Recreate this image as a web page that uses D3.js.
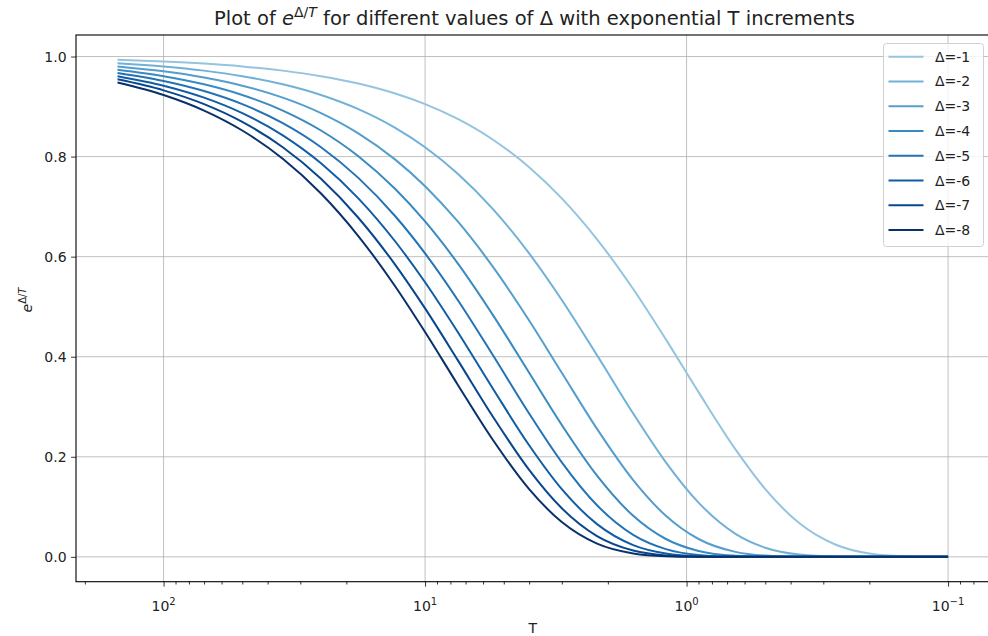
<!DOCTYPE html>
<html>
<head>
<meta charset="utf-8">
<script src="https://cdn.jsdelivr.net/npm/d3@7"></script>
<style>
  html, body { margin: 0; padding: 0; background: #fff; }
  svg { display: block; font-family: "DejaVu Sans", sans-serif; }
</style>
</head>
<body>
<svg id="chart" width="988" height="636"></svg>
<script>
// ---- data ----
const T = [150, 100, 70, 50, 35, 25, 18, 13, 10, 7.5, 5.5, 4, 3, 2.2, 1.6, 1.2, 0.9, 0.65, 0.5, 0.37, 0.27, 0.2, 0.14, 0.1];
const deltas = [-1, -2, -3, -4, -5, -6, -7, -8];
const valsD1 = [.99336, .99005, .98582, .98020, .97183, .96079, .94596, .92596, .90484, .87517, .83375, .77880, .71653, .63474, .53526, .43460, .32919, .21471, .13534, .06702, .02463, .00674, .00079, .00005];
const valsD2 = [.98676, .98020, .97183, .96079, .94446, .92312, .89484, .85741, .81873, .76593, .69514, .60653, .51342, .40289, .28650, .18888, .10837, .04610, .01832, .00449, .00061, .00005, 0, 0];
const valsD3 = [.98020, .97045, .95805, .94176, .91786, .88692, .84648, .79392, .74082, .67032, .57958, .47237, .36788, .25573, .15336, .08209, .03567, .00990, .00248, .00030, .00001, 0, 0, 0];
const valsD4 = [.97369, .96079, .94446, .92312, .89200, .85214, .80074, .73514, .67032, .58665, .48323, .36788, .26360, .16232, .08209, .03567, .01174, .00213, .00034, .00002, 0, 0, 0, 0];
const valsD5 = [.96722, .95123, .93106, .90484, .86688, .81873, .75747, .68071, .60653, .51342, .40289, .28650, .18888, .10303, .04394, .01550, .00387, .00046, .00005, 0, 0, 0, 0, 0];
const valsD6 = [.96079, .94176, .91786, .88692, .84246, .78663, .71653, .63031, .54881, .44933, .33591, .22313, .13534, .06540, .02352, .00674, .00127, .00010, 0, 0, 0, 0, 0, 0];
const valsD7 = [.95440, .93239, .90484, .86936, .81873, .75578, .67781, .58365, .49659, .39324, .28007, .17377, .09697, .04151, .01259, .00293, .00042, .00002, 0, 0, 0, 0, 0, 0];
const valsD8 = [.94806, .92312, .89200, .85214, .79567, .72615, .64118, .54044, .44933, .34415, .23351, .13534, .06948, .02635, .00674, .00127, .00014, 0, 0, 0, 0, 0, 0, 0];
const seriesValues = [valsD1, valsD2, valsD3, valsD4, valsD5, valsD6, valsD7, valsD8];
const yTicks = [0.0, 0.2, 0.4, 0.6, 0.8, 1.0];
const xMajorTicks = [100, 10, 1, 0.1];
const xMajorExp = ["2", "1", "0", "\u22121"];

// ---- colours: matplotlib "Blues" stops ----
const bluesStops = ["#f7fbff", "#deebf7", "#c6dbef", "#9ecae1", "#6baed6", "#4292c6", "#2171b5", "#08519c", "#08306b"];
const blues = d3.scaleLinear().domain(d3.range(9).map(i => i / 8)).range(bluesStops).interpolate(d3.interpolateRgb);
const colors = deltas.map((d, i) => blues(0.4 + 0.6 * i / (deltas.length - 1)));

// ---- layout ----
const svg = d3.select("#chart");
const L = 76, Rr = 989.6, Tp = 35, B = 581.7;

const lmin = Math.log10(d3.min(T)), lmax = Math.log10(d3.max(T));
const lm = (lmax - lmin) * 0.05;
const x = d3.scaleLog().domain([Math.pow(10, lmax + lm), Math.pow(10, lmin - lm)]).range([L, Rr]);
const vmax = d3.max(seriesValues.flat()), vmin = 0;
const ym = (vmax - vmin) * 0.05;
const y = d3.scaleLinear().domain([vmin - ym, vmax + ym]).range([B, Tp]);

// grid
const grid = svg.append("g").attr("stroke", "#b0b0b0").attr("stroke-width", 0.8);
xMajorTicks.forEach(t => grid.append("line").attr("x1", x(t)).attr("x2", x(t)).attr("y1", Tp).attr("y2", B));
yTicks.forEach(t => grid.append("line").attr("x1", L).attr("x2", Rr).attr("y1", y(t)).attr("y2", y(t)));

// lines
const line = d3.line().x(d => x(d[0])).y(d => y(d[1])).curve(d3.curveMonotoneX);
const plot = svg.append("g");
seriesValues.forEach((vals, i) => {
  plot.append("path")
    .datum(T.map((t, j) => [t, vals[j]]))
    .attr("d", line)
    .attr("fill", "none")
    .attr("stroke", colors[i])
    .attr("stroke-width", 2)
    .attr("stroke-linejoin", "round")
    .attr("stroke-linecap", "butt");
});

// axes
const xAxis = d3.axisBottom(x).tickValues(xMajorTicks).tickSize(4.9).tickFormat("");
const gx = svg.append("g").attr("transform", `translate(0,${B})`).call(xAxis);
const minor = [];
const [dHi, dLo] = x.domain();
for (let e = -3; e <= 3; e++) for (let m = 2; m <= 9; m++) {
  const v = m * Math.pow(10, e);
  if (v <= dHi && v >= dLo) minor.push(v);
}
const gxm = svg.append("g").attr("transform", `translate(0,${B})`)
  .call(d3.axisBottom(x).tickValues(minor).tickSize(2.8).tickFormat(""));
[gx, gxm].forEach(g => {
  g.select(".domain").remove();
  g.selectAll(".tick line").attr("stroke", "#000").attr("stroke-width", 0.8);
});
xMajorTicks.forEach((t, i) => {
  const tx = svg.append("text").attr("x", x(t)).attr("y", 611).attr("text-anchor", "middle")
    .attr("font-size", 14).attr("fill", "#222");
  tx.append("tspan").text("10");
  tx.append("tspan").attr("dy", -6).attr("font-size", 10).text(xMajorExp[i]);
});

const gy = svg.append("g").attr("transform", `translate(${L},0)`)
  .call(d3.axisLeft(y).tickValues(yTicks).tickSize(4.9).tickPadding(4.5).tickFormat(d3.format(".1f")));
gy.select(".domain").remove();
gy.selectAll(".tick line").attr("stroke", "#000").attr("stroke-width", 0.8);
gy.selectAll(".tick text").attr("font-size", 14).attr("fill", "#222").attr("font-family", "DejaVu Sans");

// spines
const sp = svg.append("g").attr("stroke", "#000").attr("stroke-width", 1.1).attr("fill", "none");
sp.append("rect").attr("x", L).attr("y", Tp).attr("width", Rr - L).attr("height", B - Tp);

// legend
const lg = svg.append("g");
lg.append("rect").attr("x", 883.5).attr("y", 43.5).attr("width", 100).attr("height", 203)
  .attr("rx", 3).attr("fill", "#fff").attr("fill-opacity", 0.8).attr("stroke", "#d0d0d0").attr("stroke-width", 1);
deltas.forEach((d, i) => {
  const ly = 56.7 + i * 24.76;
  lg.append("line").attr("x1", 888.5).attr("x2", 923.5).attr("y1", ly).attr("y2", ly)
    .attr("stroke", colors[i]).attr("stroke-width", 2);
  lg.append("text").attr("x", 935).attr("y", ly + 5).attr("font-size", 14).attr("fill", "#222")
    .text(`\u0394=${d}`);
});

// title
const title = svg.append("text").attr("x", 534.5).attr("y", 25).attr("text-anchor", "middle")
  .attr("font-size", 19.5).attr("fill", "#222");
title.append("tspan").text("Plot of ");
title.append("tspan").attr("font-style", "italic").text("e");
title.append("tspan").attr("dy", -8).attr("font-size", 14).text("\u0394/");
title.append("tspan").attr("font-size", 14).attr("font-style", "italic").text("T");
title.append("tspan").attr("dy", 8).text(" for different values of \u0394 with exponential T increments");

// axis labels
svg.append("text").attr("x", (L + Rr) / 2).attr("y", 633).attr("text-anchor", "middle")
  .attr("font-size", 14).attr("fill", "#222").text("T");
const yl = svg.append("text").attr("transform", "translate(32,300) rotate(-90)").attr("text-anchor", "middle")
  .attr("font-size", 14).attr("fill", "#222");
yl.append("tspan").attr("font-style", "italic").text("e");
yl.append("tspan").attr("dy", -6).attr("font-size", 10).text("\u0394/");
yl.append("tspan").attr("font-size", 10).attr("font-style", "italic").text("T");
</script>
</body>
</html>
